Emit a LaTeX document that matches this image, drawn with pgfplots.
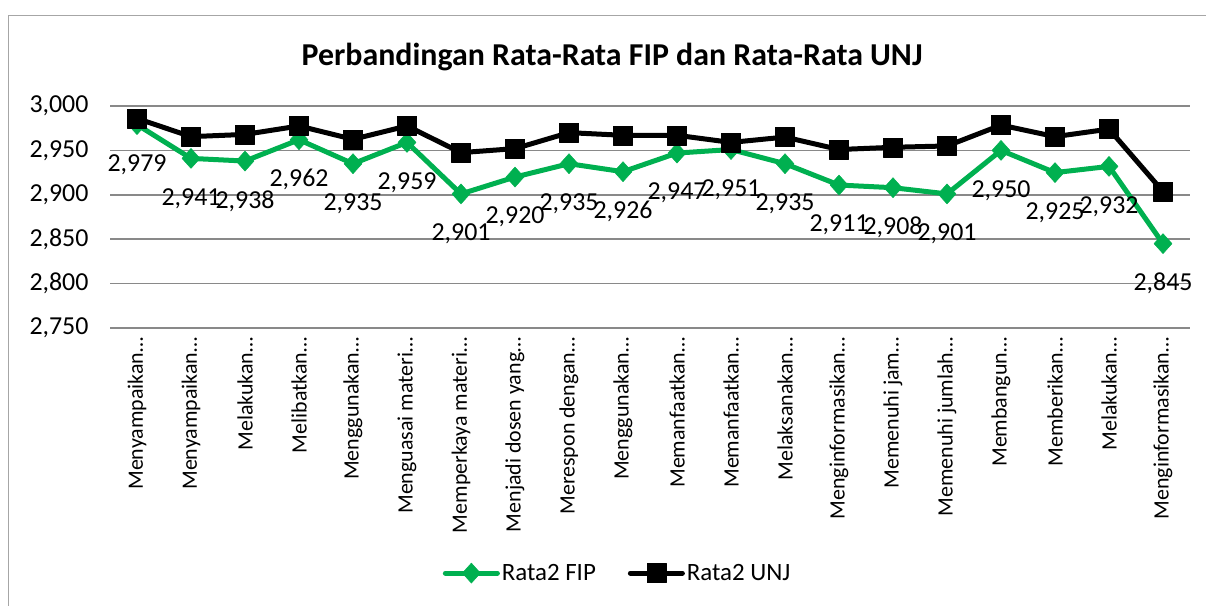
\documentclass[border=0pt]{standalone}
\usepackage{fontspec}
\setmainfont{Carlito}
\usepackage{pgfplots}
\pgfplotsset{compat=1.18}
\definecolor{fipgreen}{HTML}{00B050}
\definecolor{gridgray}{HTML}{898989}
\definecolor{framegray}{HTML}{A6A6A6}

\begin{document}
\begin{tikzpicture}[x=1bp,y=1bp]
\useasboundingbox (0,0) rectangle (1206,-606);
\draw[framegray, line width=1.8bp] (8.5,-610) -- (8.5,-15.5) -- (1210,-15.5);
\node[font=\fontsize{32}{38}\selectfont\bfseries] at (612,-57) {Perbandingan Rata-Rata FIP dan Rata-Rata UNJ};
\begin{axis}[
  at={(110bp,-328bp)}, anchor=south west,
  scale only axis, width=1080bp, height=222bp,
  xmin=-0.5, xmax=19.5, ymin=2.75, ymax=3.0,
  ytick={2.75,2.8,2.85,2.9,2.95,3.0},
  xtick={0,...,19},
  xticklabels={Menyampaikan…,Menyampaikan…,Melakukan…,Melibatkan…,Menggunakan…,Menguasai materi…,Memperkaya materi…,Menjadi dosen yang…,Merespon dengan…,Menggunakan…,Memanfaatkan…,Memanfaatkan…,Melaksanakan…,Menginformasikan…,Memenuhi jam…,Memenuhi jumlah…,Membangun…,Memberikan…,Melakukan…,Menginformasikan…},
  ymajorgrids, grid style={gridgray, line width=1.5bp},
  axis x line*=bottom, axis y line*=left,
  x axis line style={gridgray, line width=1.5bp},
  y axis line style={draw=none},
  major tick length=0pt,
  xticklabel style={rotate=90, anchor=east, font=\fontsize{22}{26}\selectfont},
  xticklabel shift=6bp,
  yticklabel style={font=\fontsize{26}{31}\selectfont},
  yticklabel shift=18bp,
  /pgf/number format/use comma,
  /pgf/number format/fixed,
  /pgf/number format/fixed zerofill,
  /pgf/number format/precision=3,
  /pgf/number format/1000 sep={},
  /pgf/number format/assume math mode=true,
  clip=false,
  legend style={at={(0.47,-1.104)}, anchor=center, draw=none, fill=none,
    legend columns=2, font=\fontsize{25}{30}\selectfont,
    /tikz/every even column/.append style={column sep=30bp}},
  legend image code/.code={\draw[mark repeat=2,mark phase=2,#1] plot coordinates {(0bp,0bp) (26bp,0bp) (52bp,0bp)};},
]
\addplot[fipgreen, line width=5bp, line cap=round, line join=round,
  mark=diamond*, mark size=10bp, mark options={solid, fill=fipgreen, draw=fipgreen, line width=0.5bp, xscale=1.2},
  nodes near coords,
  every node near coord/.append style={font=\fontsize{26}{31}\selectfont, text=black, anchor=center, yshift=-40bp}]
 coordinates {
 (0,2.979) (1,2.941) (2,2.938) (3,2.962) (4,2.935) (5,2.959) (6,2.901) (7,2.920) (8,2.935) (9,2.926)
 (10,2.947) (11,2.951) (12,2.935) (13,2.911) (14,2.908) (15,2.901) (16,2.950) (17,2.925) (18,2.932) (19,2.845)
 };
\addlegendentry{Rata2 FIP}
\addplot[black, line width=5bp, line cap=round, line join=round,
  mark=square*, mark size=9.5bp, mark options={solid, fill=black, draw=black, line width=0.5bp}]
 coordinates {
 (0,2.986) (1,2.9655) (2,2.968) (3,2.9775) (4,2.9625) (5,2.9775) (6,2.9475) (7,2.952) (8,2.970) (9,2.967)
 (10,2.967) (11,2.959) (12,2.965) (13,2.951) (14,2.9535) (15,2.955) (16,2.9785) (17,2.9655) (18,2.974) (19,2.9037)
 };
\addlegendentry{Rata2 UNJ}
\end{axis}
\end{tikzpicture}
\end{document}
